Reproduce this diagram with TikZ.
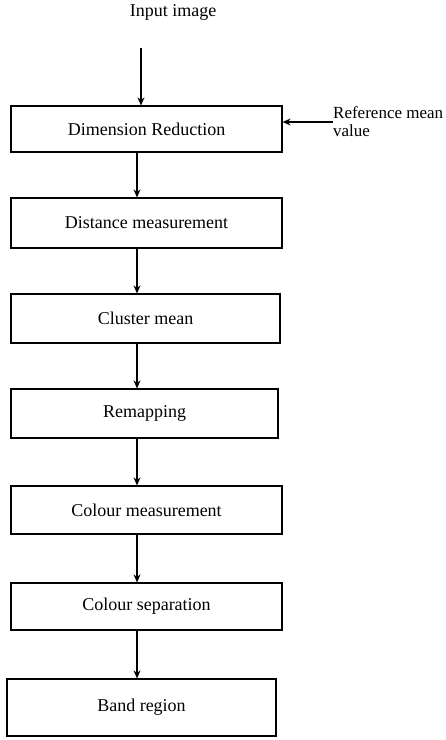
\documentclass[tikz,border=0pt]{standalone}
\usepackage{fontspec}
\setmainfont{Liberation Serif}
\usetikzlibrary{arrows.meta}

\tikzset{
    stage/.style={draw, line width=1.2pt, rectangle, inner sep=0pt,
        font=\fontsize{18}{20}\selectfont},
    flow/.style={line width=1.1pt, -{Stealth[length=8pt,width=7pt]}}
}

\begin{document}
\begin{tikzpicture}[x=1pt,y=-1pt]
    \useasboundingbox (0,0) rectangle (446,740);
    % Stages of the pipeline
    \node[stage, minimum width=271, minimum height=46] (dimred) at (146.5,129) {Dimension Reduction};
    \node[stage, minimum width=271, minimum height=50] (distmeas) at (146.5,223) {Distance measurement};
    \node[stage, minimum width=269, minimum height=49] (clmean) at (145.5,318.5) {Cluster mean};
    \node[stage, minimum width=267, minimum height=49] (remap) at (144.5,413.5) {Remapping};
    \node[stage, minimum width=271, minimum height=48] (colmeas) at (146.5,510) {Colour measurement};
    \node[stage, minimum width=271, minimum height=47] (colsep) at (146.5,606.5) {Colour separation};
    \node[stage, minimum width=269, minimum height=57] (band) at (141.5,707.5) {Band region};
    % Inputs
    \node[font=\fontsize{18}{20}\selectfont, inner sep=0pt] (input) at (173,12) {Input image};
    \node[font=\fontsize{17}{18}\selectfont, inner sep=0pt, align=left, anchor=north west] (refmean) at (333,106) {Reference mean\\value};
    \coordinate (instart) at (141,48);
    \coordinate (refstart) at (333,122);
    \coordinate (col) at (137,0);
    % Arrows
    \draw[flow] (instart) -- (instart |- dimred.north);
    \draw[flow] (refstart) -- (refstart -| dimred.east);
    \foreach \a/\b in {dimred/distmeas, distmeas/clmean, clmean/remap, remap/colmeas, colmeas/colsep, colsep/band}
        \draw[flow] (\a.south -| col) -- (\b.north -| col);
\end{tikzpicture}
\end{document}
